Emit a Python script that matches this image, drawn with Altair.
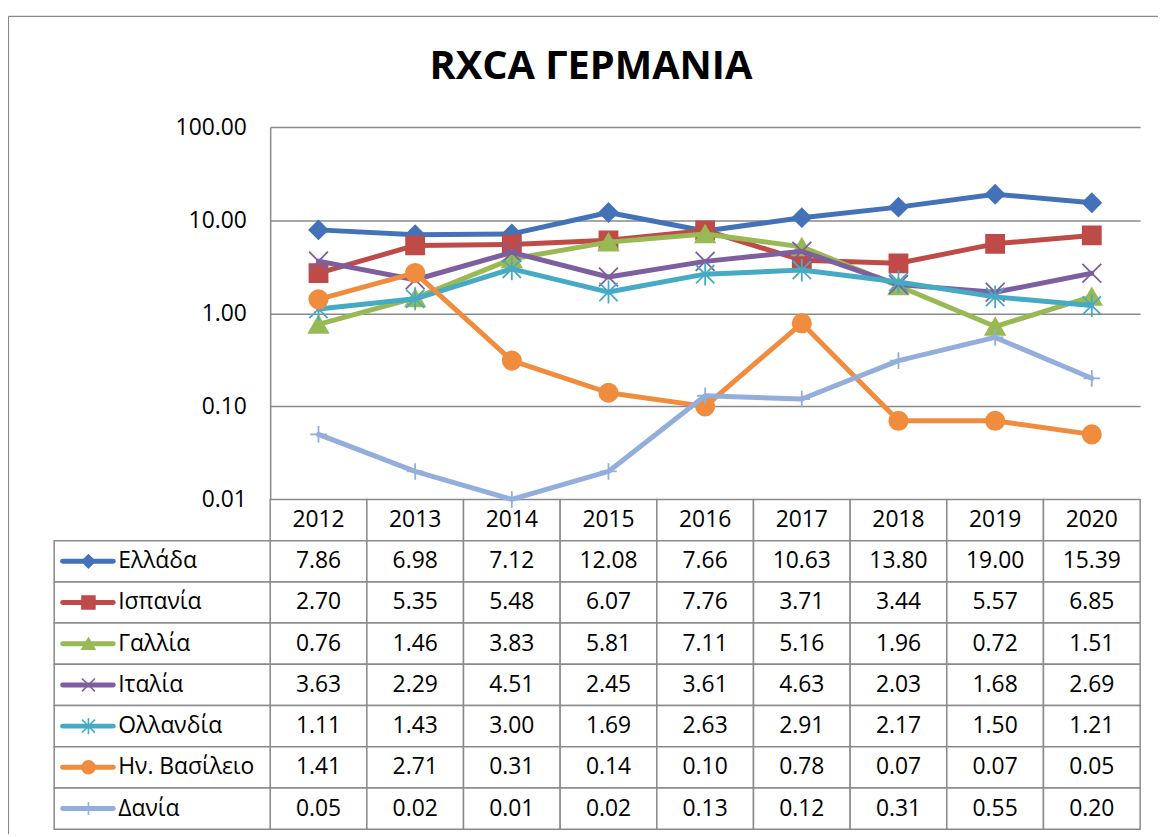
import altair as alt
import pandas as pd

# ---------------- data ----------------
years = [2012, 2013, 2014, 2015, 2016, 2017, 2018, 2019, 2020]
series = ["Ελλάδα", "Ισπανία", "Γαλλία", "Ιταλία", "Ολλανδία", "Ην. Βασίλειο", "Δανία"]

ellada = [7.86, 6.98, 7.12, 12.08, 7.66, 10.63, 13.80, 19.00, 15.39]
ispania = [2.70, 5.35, 5.48, 6.07, 7.76, 3.71, 3.44, 5.57, 6.85]
gallia = [0.76, 1.46, 3.83, 5.81, 7.11, 5.16, 1.96, 0.72, 1.51]
italia = [3.63, 2.29, 4.51, 2.45, 3.61, 4.63, 2.03, 1.68, 2.69]
ollandia = [1.11, 1.43, 3.00, 1.69, 2.63, 2.91, 2.17, 1.50, 1.21]
hn_vasileio = [1.41, 2.71, 0.31, 0.14, 0.10, 0.78, 0.07, 0.07, 0.05]
dania = [0.05, 0.02, 0.01, 0.02, 0.13, 0.12, 0.31, 0.55, 0.20]
values = [ellada, ispania, gallia, italia, ollandia, hn_vasileio, dania]

y_ticks = [0.01, 0.1, 1, 10, 100]
title_text = "RXCA ΓΕΡΜΑΝΙΑ"

# ---------------- styles ----------------
colors = ["#4372B8", "#BE4B48", "#98B954", "#7D5FA0", "#46AAC5", "#F08C3E", "#93AEDA"]
shapes = [
    "diamond",
    "square",
    "triangle-up",
    "M-1,-1L1,1M-1,1L1,-1",
    "M-1,-1L1,1M-1,1L1,-1M0,-1.25L0,1.25",
    "circle",
    "M0,-1L0,1M-1,0L1,0",
]
marker_sizes = [340, 330, 380, 360, 340, 340, 280]
FONT = "Open Sans"
GRID = "#8A8A8A"
W, H = 876, 707
PLOT_H = 375

# ---------------- tables ----------------
yr = [str(y) for y in years]
rows = []
for s, vals in zip(series, values):
    for y, v in zip(yr, vals):
        rows.append({"series": s, "year": y, "value": v, "text": f"{v:.2f}"})
df = pd.DataFrame(rows)

hdr = pd.DataFrame({"series": "hdr", "year": yr, "text": yr})
table_df = pd.concat([hdr, df[["series", "year", "text"]]], ignore_index=True)
label_df = pd.DataFrame({"series": series})
one = pd.DataFrame({"k": [0]})

# ---------------- scales ----------------
xs = alt.Scale(type="point", domain=yr, padding=0.5)
ys = alt.Scale(type="log", domain=[0.01, 100], range=[PLOT_H, 0], nice=False)
cs = alt.Scale(domain=series, range=colors)
shs = alt.Scale(domain=series, range=shapes)
tx = alt.Scale(type="band", domain=yr, paddingInner=0, paddingOuter=0)
ty = alt.Scale(type="band", domain=["hdr"] + series, range=[PLOT_H, H],
               paddingInner=0, paddingOuter=0)

yaxis = alt.Axis(values=y_ticks, format=".2f", title=None, orient="left",
                 grid=True, gridColor=GRID, gridWidth=1.5,
                 domain=True, domainColor=GRID, domainWidth=1.5,
                 ticks=False, tickSize=0, labelPadding=24,
                 labelFont=FONT, labelFontSize=23, labelColor="black")

# ---------------- line chart ----------------
base = alt.Chart(df)
line_layers = []
for i, s in enumerate(series):
    b = base.transform_filter(alt.datum.series == s)
    X = alt.X("year:O", scale=xs, axis=None)
    Y = alt.Y("value:Q", scale=ys, axis=yaxis)
    line_layers.append(
        b.mark_line(strokeWidth=5, strokeJoin="round", strokeCap="round").encode(
            x=X, y=Y, color=alt.Color("series:N", scale=cs, legend=None)
        )
    )
    line_layers.append(
        b.mark_point(filled=True, size=marker_sizes[i], strokeWidth=1.8, opacity=1).encode(
            x=X, y=Y,
            fill=alt.Fill("series:N", scale=cs, legend=None),
            stroke=alt.Stroke("series:N", scale=cs, legend=None),
            shape=alt.Shape("series:N", scale=shs, legend=None),
        )
    )
lines = alt.layer(*line_layers)

# ---------------- data table ----------------
TY = alt.Y("series:N", scale=ty, axis=None)
TX = alt.X("year:O", scale=tx, axis=None)
cells = alt.Chart(table_df).mark_rect(fill="white", stroke=GRID, strokeWidth=1.5).encode(x=TX, y=TY)
cell_text = alt.Chart(table_df).mark_text(font=FONT, fontSize=23, color="black",
                                          baseline="middle", align="center").encode(
    x=TX, y=TY, text="text:N")
label_cells = alt.Chart(label_df).mark_rect(fill="white", stroke=GRID, strokeWidth=1.5).encode(
    x=alt.value(-217.5), x2=alt.value(0), y=TY)
label_text = alt.Chart(label_df).mark_text(font=FONT, fontSize=23, color="black",
                                           baseline="middle", align="left").encode(
    x=alt.value(-153), y=TY, text="series:N")
key_lines = alt.Chart(label_df).mark_rule(strokeWidth=5, strokeCap="round").encode(
    x=alt.value(-209), x2=alt.value(-158), y=TY,
    color=alt.Color("series:N", scale=cs, legend=None))
key_points = alt.Chart(label_df).mark_point(filled=True, size=170, strokeWidth=1.6, opacity=1).encode(
    x=alt.value(-183), y=TY,
    fill=alt.Fill("series:N", scale=cs, legend=None),
    stroke=alt.Stroke("series:N", scale=cs, legend=None),
    shape=alt.Shape("series:N", scale=shs, legend=None))
table = alt.layer(cells, cell_text, label_cells, label_text, key_lines, key_points)

# ---------------- frame & title ----------------
frame_left = alt.Chart(one).mark_rule(color=GRID, strokeWidth=1.2).encode(
    x=alt.value(-263.5), y=alt.value(-111.5), y2=alt.value(712))
frame_top = alt.Chart(one).mark_rule(color=GRID, strokeWidth=1.2).encode(
    x=alt.value(-263.5), x2=alt.value(894), y=alt.value(-111.5))
title = alt.Chart(one).mark_text(text=title_text, font=FONT, fontSize=40, fontWeight="bold",
                                 color="black", align="center", baseline="alphabetic").encode(
    x=alt.value(323), y=alt.value(-48))

chart = alt.layer(table, lines, frame_left, frame_top, title).resolve_scale(
    x="independent", y="independent"
).properties(
    width=W, height=H,
    padding={"left": 264, "top": 117, "right": 18, "bottom": 5},
    autosize=alt.AutoSizeParams(type="none"),
).configure_view(stroke=None)

chart.save("out.html", embed_options={"renderer": "svg", "actions": False})
